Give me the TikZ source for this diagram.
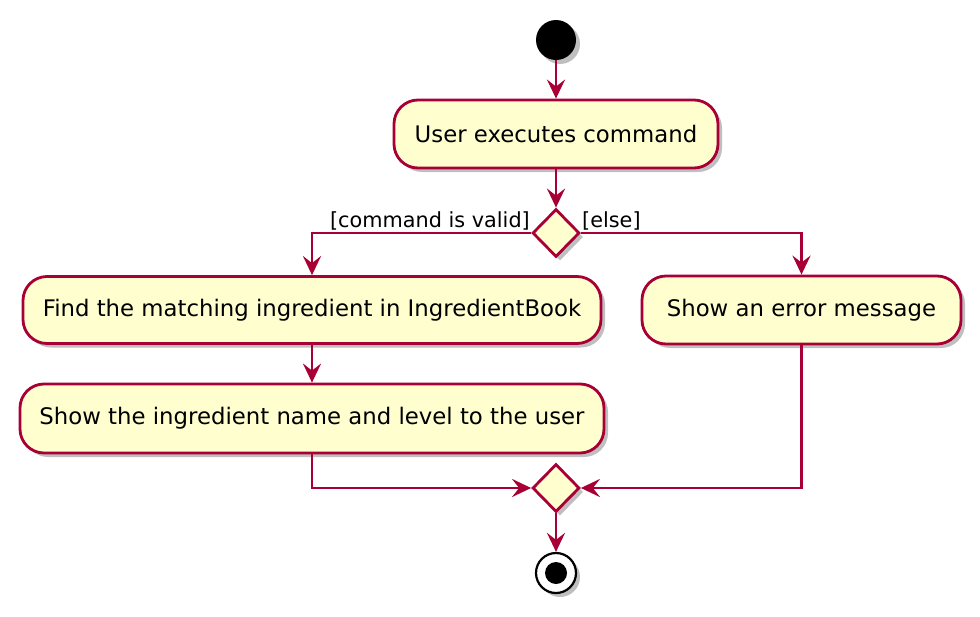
\documentclass[tikz,border=0pt]{standalone}
\usepackage{fontspec}
\setmainfont{DejaVu Sans}
\usetikzlibrary{arrows.meta,shapes.geometric,shadows}
\definecolor{umlred}{HTML}{A80036}
\definecolor{umlfill}{HTML}{FEFECE}
\begin{document}
\begin{tikzpicture}[x=1pt,y=-1pt,
  shad/.style={drop shadow={opacity=0.25, fill=black, shadow xshift=4pt, shadow yshift=-4pt}},
  act/.style={draw=umlred, fill=umlfill, line width=2.8pt, rounded corners=24pt,
    inner sep=0pt, font=\fontsize{22.8}{27}\selectfont, shad},
  decide/.style={diamond, draw=umlred, fill=umlfill, line width=2.8pt,
    minimum width=47pt, minimum height=48pt, inner sep=0pt, shad},
  flow/.style={draw=umlred, line width=2.8pt,
    -{Stealth[length=19pt, width=18pt, inset=7pt]}},
  lbl/.style={font=\fontsize{20.8}{25}\selectfont, inner sep=0pt}
]
\useasboundingbox (0,0) rectangle (980,616);

\node[circle, fill=black, minimum size=40pt, inner sep=0pt, shad] (start) at (556,40) {};
\node[act, minimum width=324pt, minimum height=68pt] (b1) at (556,134) {User executes command};
\node[decide] (d1) at (556,233) {};
\node[act, minimum width=578pt, minimum height=67pt] (b2) at (312,310) {Find the matching ingredient in IngredientBook};
\node[act, minimum width=584pt, minimum height=69pt] (b3) at (312,418.5) {Show the ingredient name and level to the user};
\node[act, minimum width=319pt, minimum height=68pt] (b4) at (801.5,310) {Show an error message};
\node[decide] (d2) at (556,488) {};
\node[circle, draw=black, line width=2.2pt, fill=white, minimum size=40pt, inner sep=0pt, shad] (end) at (556,573) {};
\node[circle, fill=black, minimum size=22pt, inner sep=0pt] (endin) at (end.center) {};

\node[lbl, anchor=base east] (l1) at (530,227) {[command is valid]};
\node[lbl, anchor=base west] (l2) at (582,227) {[else]};

\draw[flow] (start) -- (b1);
\draw[flow] (b1) -- (d1);
\draw[flow] (d1.west) -| (b2.north);
\draw[flow] (d1.east) -| (b4.north);
\draw[flow] (b2) -- (b3);
\draw[flow] (b3.south) |- (d2.west);
\draw[flow] (b4.south) |- (d2.east);
\draw[flow] (d2) -- (end);
\end{tikzpicture}
\end{document}
